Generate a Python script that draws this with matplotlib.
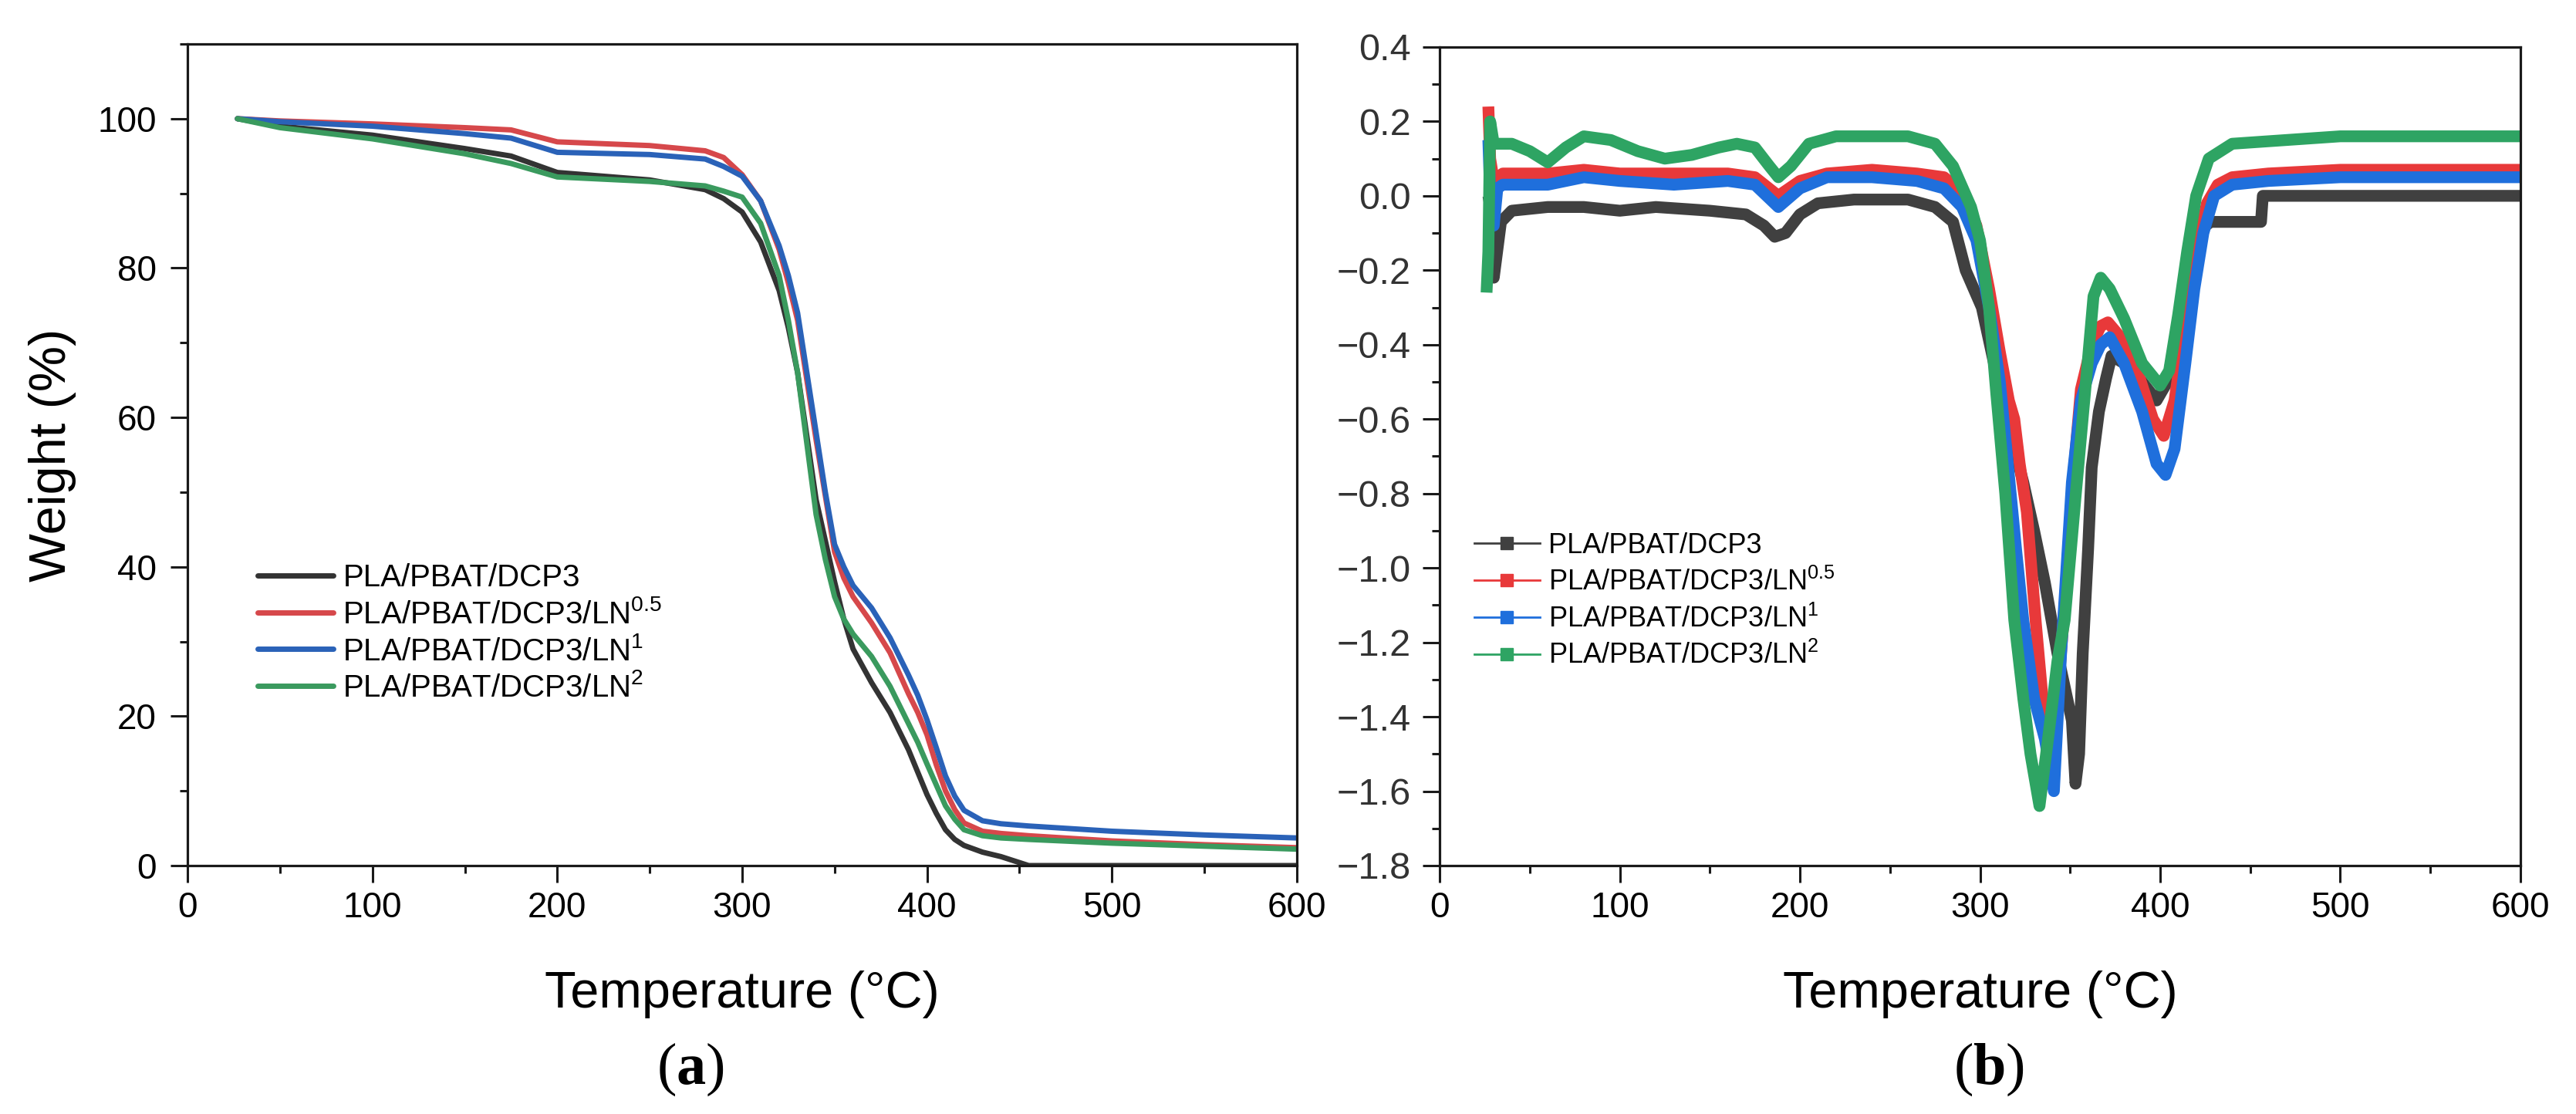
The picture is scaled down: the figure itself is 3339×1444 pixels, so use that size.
import matplotlib
matplotlib.use('Agg')
import matplotlib.pyplot as plt
from matplotlib.ticker import MultipleLocator
from matplotlib.lines import Line2D

plt.rcParams['font.family'] = ['Liberation Sans', 'DejaVu Sans']
plt.rcParams['mathtext.fontset'] = 'custom'
plt.rcParams['mathtext.rm'] = 'Liberation Sans'
plt.rcParams['mathtext.bf'] = 'Liberation Serif:bold'
plt.rcParams['mathtext.default'] = 'rm'

labels = ['PLA/PBAT/DCP3', 'PLA/PBAT/DCP3/LN$^{0.5}$',
          'PLA/PBAT/DCP3/LN$^{1}$', 'PLA/PBAT/DCP3/LN$^{2}$']

# (a) TGA curves, weight (%) vs temperature
tga_temp = [27, 50, 100, 150, 175, 200, 250, 280, 290, 300, 310, 320, 325, 330, 335,
            340, 345, 350, 355, 360, 370, 380, 390, 395, 400, 405, 410, 415, 420, 430,
            440, 455, 500, 550, 600]
tga_dcp3 = [100, 99.0, 97.8, 96.0, 95.0, 92.8, 91.8, 90.5, 89.3, 87.5, 83.5, 77, 72, 66,
            57.5, 49, 43.5, 38, 33, 29, 24.5, 20.5, 15.5, 12.5, 9.5, 7, 4.8, 3.5, 2.7,
            1.8, 1.2, 0, 0, 0, 0]
tga_ln05 = [100, 99.7, 99.3, 98.8, 98.5, 96.9, 96.4, 95.7, 94.8, 92.5, 89, 82.5, 78, 73,
            65, 57, 49.5, 42, 38.5, 36, 32.5, 28.5, 23, 20.5, 17.5, 13.5, 10, 7.5, 5.7,
            4.6, 4.3, 4.0, 3.3, 2.8, 2.4]
tga_ln1 = [100, 99.6, 99.0, 98.0, 97.4, 95.5, 95.2, 94.6, 93.6, 92.3, 89, 83, 79, 74,
           66, 58, 50, 43, 40, 37.5, 34.5, 30.5, 25.5, 22.8, 19.5, 15.8, 12, 9.3, 7.4,
           6.0, 5.6, 5.3, 4.6, 4.1, 3.7]
tga_ln2 = [100, 98.8, 97.3, 95.3, 94.0, 92.2, 91.6, 91.0, 90.3, 89.5, 86, 79, 73, 66,
           56.5, 47, 41, 36, 33, 31, 28, 24, 19, 16.5, 13.6, 10.8, 8, 6.2, 4.8, 4.0,
           3.7, 3.5, 3.0, 2.6, 2.2]

# (b) DTG curves
dtg_dcp3_t = [27, 29, 30, 34, 40, 60, 80, 100, 120, 150, 170, 180, 186, 192, 200, 210,
              230, 260, 275, 285, 292, 301, 310, 316, 324, 330, 336, 343, 351, 353, 355,
              357, 360, 362, 366, 370, 373, 380, 390, 398, 404, 412, 420, 428, 456, 457,
              500, 600]
dtg_dcp3 = [0.0, -0.05, -0.22, -0.07, -0.04, -0.03, -0.03, -0.04, -0.03, -0.04, -0.05,
            -0.08, -0.11, -0.10, -0.05, -0.02, -0.01, -0.01, -0.03, -0.07, -0.2, -0.3,
            -0.5, -0.62, -0.77, -0.9, -1.04, -1.23, -1.41, -1.58, -1.5, -1.23, -0.95,
            -0.73, -0.58, -0.49, -0.43, -0.45, -0.5, -0.55, -0.5, -0.3, -0.1, -0.07,
            -0.07, 0.0, 0.0, 0.0]

dtg_ln05_t = [27, 28, 30, 35, 60, 80, 100, 130, 160, 175, 188, 200, 215, 240, 265, 280,
              290, 298, 305, 311, 316, 319, 322, 326, 331, 336, 339, 343, 347, 351, 356,
              362, 367, 371, 378, 388, 396, 402, 408, 414, 420, 426, 432, 440, 460, 500,
              600]
dtg_ln05 = [0.24, 0.1, 0.04, 0.06, 0.06, 0.07, 0.06, 0.06, 0.06, 0.05, 0.0, 0.04, 0.06,
            0.07, 0.06, 0.05, 0.01, -0.08, -0.25, -0.42, -0.55, -0.6, -0.72, -0.85,
            -1.15, -1.42, -1.5, -1.35, -1.1, -0.8, -0.52, -0.4, -0.35, -0.34, -0.38,
            -0.48, -0.6, -0.645, -0.55, -0.35, -0.15, -0.02, 0.03, 0.05, 0.06, 0.07, 0.07]

dtg_ln1_t = [27, 28, 30, 32, 35, 60, 80, 100, 130, 160, 175, 188, 200, 215, 240, 265,
             280, 290, 298, 305, 311, 316, 320, 324, 330, 336, 341, 345, 348, 351, 356,
             362, 367, 372, 380, 390, 398, 403, 408, 414, 419, 424, 430, 440, 460, 500,
             600]
dtg_ln1 = [0.15, 0.0, -0.08, 0.02, 0.03, 0.03, 0.05, 0.04, 0.03, 0.04, 0.03, -0.03, 0.02,
           0.05, 0.05, 0.04, 0.02, -0.03, -0.12, -0.3, -0.5, -0.75, -0.95, -1.14, -1.35,
           -1.46, -1.6, -1.23, -1.0, -0.77, -0.55, -0.45, -0.4, -0.38, -0.45, -0.58,
           -0.72, -0.75, -0.68, -0.45, -0.25, -0.1, 0.0, 0.03, 0.04, 0.05, 0.05]

dtg_ln2_t = [26, 27, 28, 30, 40, 50, 60, 70, 80, 95, 110, 125, 140, 155, 165, 175, 183,
             188, 195, 205, 220, 260, 275, 285, 295, 300, 305, 309, 314, 319, 324, 328,
             333, 338, 343, 347, 353, 359, 363, 367, 372, 380, 390, 400, 405, 410, 415,
             420, 427, 440, 500, 600]
dtg_ln2 = [-0.26, -0.15, 0.2, 0.14, 0.14, 0.12, 0.09, 0.13, 0.16, 0.15, 0.12, 0.1, 0.11,
           0.13, 0.14, 0.13, 0.08, 0.05, 0.08, 0.14, 0.16, 0.16, 0.14, 0.08, -0.03, -0.12,
           -0.3, -0.53, -0.8, -1.14, -1.35, -1.5, -1.64, -1.45, -1.25, -1.14, -0.81,
           -0.49, -0.27, -0.22, -0.25, -0.33, -0.45, -0.51, -0.47, -0.32, -0.15, 0.0,
           0.1, 0.14, 0.16, 0.16]

colors_a = ['#333333', '#d6484b', '#2a62b8', '#3a9a5e']
colors_b = ['#404040', '#e8393a', '#1f6fdc', '#2ea463']

fig = plt.figure(figsize=(33.39, 14.44), dpi=100)
ax1 = fig.add_axes([0.0728, 0.2230, 0.4306, 0.7375])
ax2 = fig.add_axes([0.5589, 0.2230, 0.4195, 0.7348])

# panel (a)
tga_series = [tga_dcp3, tga_ln05, tga_ln1, tga_ln2]
for vals, c, lab in zip(tga_series, colors_a, labels):
    ax1.plot(tga_temp, vals, color=c, lw=5, label=lab,
             solid_capstyle='round', solid_joinstyle='round')
ax1.set_xlim(0, 600)
ax1.set_ylim(0, 110)
ax1.xaxis.set_major_locator(MultipleLocator(100))
ax1.xaxis.set_minor_locator(MultipleLocator(50))
ax1.yaxis.set_minor_locator(MultipleLocator(10))
ax1.set_yticks([0, 20, 40, 60, 80, 100])
ax1.set_ylabel('Weight (%)', fontsize=48, va='center', ha='center')
ax1.yaxis.set_label_coords(-0.122, 0.5)
ax1.legend(loc='center left', bbox_to_anchor=(0.063, 0.283), frameon=False,
           fontsize=29, handlelength=2.45, handletextpad=0.3, labelspacing=0.22,
           borderpad=0, borderaxespad=0)

# panel (b)
dtg_series = [(dtg_dcp3_t, dtg_dcp3), (dtg_ln05_t, dtg_ln05),
              (dtg_ln1_t, dtg_ln1), (dtg_ln2_t, dtg_ln2)]
for (t, vals), c in zip(dtg_series, colors_b):
    ax2.plot(t, vals, color=c, lw=11, solid_joinstyle='round', solid_capstyle='butt')
ax2.set_xlim(0, 600)
ax2.set_ylim(-1.8, 0.4)
ax2.xaxis.set_major_locator(MultipleLocator(100))
ax2.xaxis.set_minor_locator(MultipleLocator(50))
ax2.yaxis.set_major_locator(MultipleLocator(0.2))
ax2.yaxis.set_minor_locator(MultipleLocator(0.1))
handles_b = [Line2D([], [], color=c, lw=2, marker='s', markersize=11) for c in colors_b]
ax2.legend(handles_b, labels, loc='center left', bbox_to_anchor=(0.032, 0.323),
           frameon=False, fontsize=26, handlelength=2.35, handletextpad=0.3,
           labelspacing=0.32, borderpad=0, borderaxespad=0)

for ax, fs, ypad in [(ax1, 33, 13), (ax2, 33, 11)]:
    for s in ax.spines.values():
        s.set_linewidth(2.3)
        s.set_color('#1a1a1a')
    ax.tick_params(which='major', direction='out', length=16, width=2.2,
                   labelsize=fs, color='#1a1a1a')
    ax.tick_params(which='minor', direction='out', length=7, width=2.2, color='#1a1a1a')
    ax.tick_params(axis='x', which='major', pad=8)
    ax.tick_params(axis='y', which='major', pad=ypad)
    ax.set_xlabel('Temperature (°C)', fontsize=48, va='center')
    ax.xaxis.set_label_coords(0.5, -0.157)

# (b) y tick labels are a little taller and greyer in the original
ax2.tick_params(axis='y', which='major', labelsize=35, labelcolor='#333333')

fig.text(895 / 3339, 1 - 1386 / 1444, r'($\mathbf{a}$)', fontsize=55,
         family='Liberation Serif', ha='center', va='center')
fig.text(2578 / 3339, 1 - 1386 / 1444, r'($\mathbf{b}$)', fontsize=55,
         family='Liberation Serif', ha='center', va='center')

fig.savefig('out.png', dpi=100, facecolor='white')
